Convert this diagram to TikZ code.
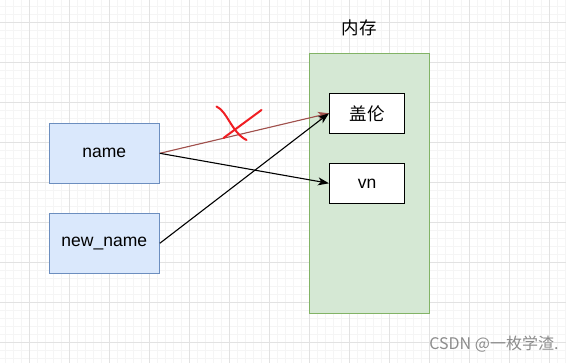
\documentclass[tikz,border=0pt]{standalone}
\usepackage{fontspec}
\setmainfont{Liberation Sans}
\newfontfamily\cjk{Noto Sans CJK SC}
\usetikzlibrary{arrows.meta}

\definecolor{gridminor}{HTML}{F5F5F5}
\definecolor{gridmajor}{HTML}{E2E2E2}
\definecolor{memfill}{HTML}{D5E8D4}
\definecolor{memline}{HTML}{82B366}
\definecolor{varfill}{HTML}{DAE8FC}
\definecolor{varline}{HTML}{6C8EBF}
\definecolor{oldref}{HTML}{A0504C}
\definecolor{crossred}{HTML}{F01E23}

\tikzset{
  varbox/.style={draw=varline, fill=varfill, line width=1pt, minimum width=110pt, minimum height=60pt, font=\fontsize{17.5}{21}\selectfont},
  valbox/.style={draw=black, fill=white, line width=1pt, minimum width=75pt, minimum height=40pt, font=\fontsize{17.5}{21}\selectfont},
  ref/.style={line width=1.1pt, -{Stealth[length=11pt, width=8pt, inset=3pt]}}
}

\begin{document}
\begin{tikzpicture}[x=1pt, y=-1pt]
\useasboundingbox (0,0) rectangle (566,363);
\fill[white] (0,0) rectangle (566,363);

% background grid
\foreach \x in {5,13,...,565} \draw[gridminor, line width=1pt] (\x,0) -- (\x,363);
\foreach \y in {7,15,...,363} \draw[gridminor, line width=1pt] (0,\y) -- (566,\y);
\foreach \x in {29,69,...,565} \draw[gridmajor, line width=1pt] (\x,0) -- (\x,363);
\foreach \y in {23,63,...,363} \draw[gridmajor, line width=1pt] (0,\y) -- (566,\y);

\node[draw=memline, fill=memfill, line width=1pt, minimum width=120pt, minimum height=260pt] (mem) at (369.3,183.3) {};
\node[font=\cjk\fontsize{17.5}{21}\selectfont] (memlabel) at (359,28) {内存};

\node[valbox] (galen) at (367,113.3) {\cjk 盖伦};
\node[valbox] (vn) at (367,183.3) {vn};

\node[varbox] (name) at (104.3,153.3) {name};
\node[varbox] (newname) at (104.3,243.3) {new\_name};

\draw[ref, draw=oldref, fill=oldref] (name.east) -- (galen.west);
\draw[ref] (name.east) -- (vn.west);
\draw[ref] (newname.east) -- (galen.west);

% cross on the old reference
\draw[crossred, line width=2pt, line cap=round] (216.5,106.5) .. controls (227,111) and (232,133) .. (246.5,140);
\draw[crossred, line width=2pt, line cap=round] (261.5,110) -- (223.5,138);

\node[text=black!45, font=\cjk\fontsize{16}{19}\selectfont, anchor=east] (mark) at (562,344) {CSDN @一枚学渣.};
\end{tikzpicture}
\end{document}
